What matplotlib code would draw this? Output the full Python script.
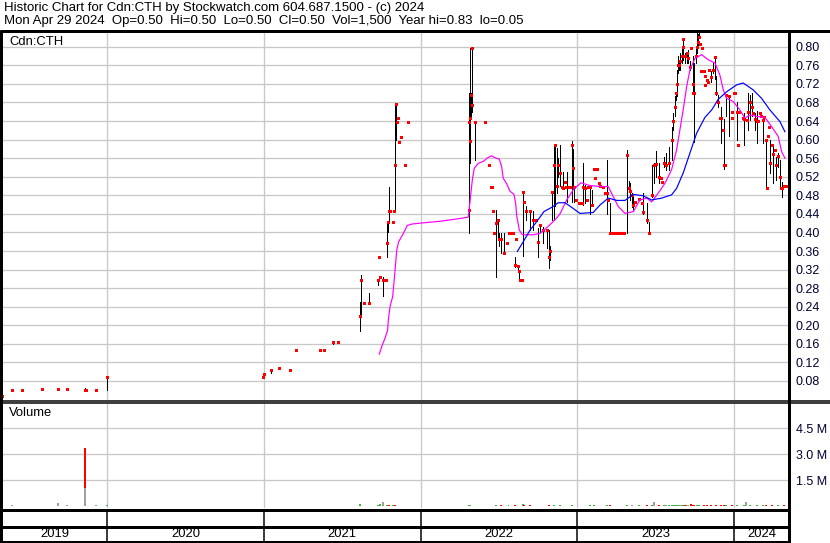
import matplotlib
matplotlib.use('Agg')
import matplotlib.pyplot as plt
from matplotlib.lines import Line2D

plt.rcParams['font.family'] = ['Liberation Sans', 'DejaVu Sans']

# ---------------- data ----------------
title_line1 = "Historic Chart for Cdn:CTH by Stockwatch.com 604.687.1500 - (c) 2024"
title_line2 = "Mon Apr 29 2024  Op=0.50  Hi=0.50  Lo=0.50  Cl=0.50  Vol=1,500  Year hi=0.83  lo=0.05"
symbol = "Cdn:CTH"

years = [2019, 2020, 2021, 2022, 2023, 2024]
year_bounds = [2020, 2021, 2022, 2023, 2024]
x_start, x_end = 2019.330, 2024.350

price_ticks = [0.08, 0.12, 0.16, 0.20, 0.24, 0.28, 0.32, 0.36, 0.40, 0.44,
               0.48, 0.52, 0.56, 0.60, 0.64, 0.68, 0.72, 0.76, 0.80]
vol_ticks = [1.5e6, 3.0e6, 4.5e6]
vol_tick_labels = ["1.5 M", "3.0 M", "4.5 M"]

# bars: (decimal year, high, low, close)
bars_2019 = [
    (2019.330, 0.048, 0.048, 0.048), (2019.394, 0.060, 0.060, 0.060),
    (2019.458, 0.060, 0.060, 0.060), (2019.585, 0.063, 0.063, 0.063),
    (2019.688, 0.063, 0.063, 0.063), (2019.745, 0.063, 0.063, 0.063),
    (2019.857, 0.064, 0.058, 0.060), (2019.866, 0.060, 0.060, 0.060),
    (2019.930, 0.060, 0.060, 0.060), (2020.000, 0.090, 0.060, 0.089),
]
bars_2021 = [
    (2020.993, 0.089, 0.089, 0.089), (2021.001, 0.094, 0.094, 0.094),
    (2021.044, 0.106, 0.098, 0.104), (2021.097, 0.109, 0.109, 0.109),
    (2021.167, 0.104, 0.104, 0.104), (2021.205, 0.147, 0.147, 0.147),
    (2021.357, 0.147, 0.147, 0.147), (2021.382, 0.147, 0.147, 0.147),
    (2021.440, 0.163, 0.159, 0.163), (2021.471, 0.163, 0.163, 0.163),
    (2021.612, 0.250, 0.188, 0.219), (2021.618, 0.308, 0.220, 0.298),
    (2021.639, 0.249, 0.249, 0.249), (2021.669, 0.270, 0.249, 0.249),
    (2021.730, 0.300, 0.287, 0.298), (2021.735, 0.348, 0.348, 0.348),
    (2021.741, 0.303, 0.303, 0.303), (2021.762, 0.304, 0.264, 0.298),
    (2021.779, 0.298, 0.298, 0.298), (2021.788, 0.423, 0.348, 0.378),
    (2021.792, 0.423, 0.400, 0.423), (2021.797, 0.498, 0.427, 0.447),
    (2021.808, 0.447, 0.447, 0.447), (2021.822, 0.423, 0.423, 0.423),
    (2021.830, 0.447, 0.447, 0.447), (2021.839, 0.676, 0.447, 0.545),
    (2021.843, 0.676, 0.600, 0.676), (2021.847, 0.637, 0.637, 0.637),
    (2021.856, 0.647, 0.647, 0.647), (2021.862, 0.595, 0.595, 0.595),
    (2021.875, 0.606, 0.606, 0.606), (2021.901, 0.545, 0.545, 0.545),
    (2021.920, 0.637, 0.637, 0.637),
]
bars_2022 = [
    (2022.307, 0.640, 0.450, 0.637), (2022.310, 0.700, 0.398, 0.448),
    (2022.313, 0.680, 0.550, 0.596), (2022.316, 0.797, 0.600, 0.646),
    (2022.320, 0.700, 0.650, 0.696), (2022.325, 0.797, 0.675, 0.797),
    (2022.328, 0.700, 0.660, 0.675), (2022.350, 0.637, 0.556, 0.637),
    (2022.411, 0.637, 0.637, 0.637), (2022.434, 0.545, 0.545, 0.545),
    (2022.446, 0.497, 0.497, 0.497), (2022.455, 0.497, 0.497, 0.497),
    (2022.459, 0.447, 0.447, 0.447), (2022.468, 0.398, 0.398, 0.398),
    (2022.483, 0.448, 0.304, 0.420), (2022.492, 0.430, 0.385, 0.427),
    (2022.502, 0.398, 0.370, 0.386), (2022.515, 0.398, 0.356, 0.386),
    (2022.532, 0.398, 0.356, 0.356), (2022.551, 0.378, 0.378, 0.378),
    (2022.561, 0.398, 0.398, 0.398), (2022.577, 0.398, 0.398, 0.398),
    (2022.591, 0.398, 0.398, 0.398), (2022.604, 0.348, 0.326, 0.330),
    (2022.607, 0.386, 0.386, 0.386), (2022.619, 0.328, 0.320, 0.328),
    (2022.630, 0.316, 0.298, 0.316), (2022.637, 0.298, 0.298, 0.298),
    (2022.647, 0.298, 0.298, 0.298), (2022.651, 0.488, 0.349, 0.488),
    (2022.660, 0.466, 0.466, 0.466), (2022.674, 0.457, 0.427, 0.447),
    (2022.698, 0.447, 0.405, 0.447), (2022.719, 0.447, 0.405, 0.427),
    (2022.736, 0.427, 0.427, 0.427), (2022.749, 0.409, 0.348, 0.380),
    (2022.760, 0.416, 0.400, 0.416), (2022.783, 0.412, 0.377, 0.405),
    (2022.804, 0.405, 0.366, 0.405), (2022.821, 0.405, 0.323, 0.348),
    (2022.825, 0.370, 0.340, 0.359), (2022.840, 0.488, 0.427, 0.488),
    (2022.851, 0.589, 0.427, 0.545), (2022.859, 0.589, 0.457, 0.589),
    (2022.868, 0.582, 0.485, 0.500), (2022.878, 0.560, 0.520, 0.545),
    (2022.892, 0.589, 0.500, 0.527), (2022.900, 0.497, 0.497, 0.497),
    (2022.910, 0.530, 0.495, 0.495), (2022.918, 0.509, 0.509, 0.509),
    (2022.925, 0.497, 0.497, 0.497), (2022.936, 0.530, 0.466, 0.497),
    (2022.943, 0.497, 0.497, 0.497), (2022.950, 0.497, 0.497, 0.497),
    (2022.964, 0.596, 0.466, 0.589), (2022.974, 0.580, 0.495, 0.538),
    (2022.980, 0.497, 0.466, 0.497), (2022.991, 0.469, 0.469, 0.469),
]
bars_2023 = [
    (2023.010, 0.463, 0.463, 0.463), (2023.027, 0.463, 0.463, 0.463),
    (2023.034, 0.550, 0.459, 0.497), (2023.049, 0.502, 0.463, 0.495),
    (2023.063, 0.470, 0.470, 0.470), (2023.068, 0.497, 0.497, 0.497),
    (2023.080, 0.500, 0.440, 0.497), (2023.091, 0.492, 0.456, 0.459),
    (2023.108, 0.537, 0.537, 0.537), (2023.112, 0.517, 0.517, 0.517),
    (2023.123, 0.537, 0.537, 0.537), (2023.138, 0.507, 0.507, 0.507),
    (2023.144, 0.500, 0.500, 0.500), (2023.165, 0.497, 0.497, 0.497),
    (2023.176, 0.484, 0.484, 0.484), (2023.187, 0.556, 0.440, 0.484),
    (2023.197, 0.470, 0.470, 0.470), (2023.208, 0.463, 0.398, 0.398),
    (2023.217, 0.398, 0.398, 0.398), (2023.230, 0.398, 0.398, 0.398),
    (2023.246, 0.398, 0.398, 0.398), (2023.259, 0.398, 0.398, 0.398),
    (2023.272, 0.398, 0.398, 0.398), (2023.284, 0.398, 0.398, 0.398),
    (2023.299, 0.398, 0.398, 0.398), (2023.314, 0.578, 0.398, 0.567),
    (2023.331, 0.510, 0.495, 0.495), (2023.336, 0.507, 0.470, 0.490),
    (2023.346, 0.485, 0.455, 0.480), (2023.357, 0.477, 0.448, 0.460),
    (2023.367, 0.465, 0.465, 0.465), (2023.395, 0.473, 0.473, 0.473),
    (2023.410, 0.463, 0.463, 0.463), (2023.420, 0.484, 0.440, 0.445),
    (2023.442, 0.463, 0.420, 0.427), (2023.459, 0.423, 0.398, 0.398),
    (2023.474, 0.545, 0.477, 0.480), (2023.489, 0.550, 0.507, 0.545),
    (2023.501, 0.575, 0.520, 0.548), (2023.520, 0.550, 0.506, 0.520),
    (2023.531, 0.517, 0.517, 0.517), (2023.541, 0.509, 0.509, 0.509),
    (2023.554, 0.563, 0.542, 0.550), (2023.565, 0.571, 0.535, 0.545),
    (2023.586, 0.585, 0.535, 0.550), (2023.601, 0.628, 0.556, 0.600),
    (2023.611, 0.657, 0.621, 0.640), (2023.622, 0.693, 0.650, 0.670),
    (2023.629, 0.700, 0.685, 0.700), (2023.633, 0.750, 0.693, 0.720),
    (2023.640, 0.780, 0.743, 0.760), (2023.648, 0.769, 0.750, 0.760),
    (2023.654, 0.787, 0.750, 0.770), (2023.665, 0.797, 0.765, 0.780),
    (2023.672, 0.816, 0.793, 0.816), (2023.675, 0.816, 0.772, 0.800),
    (2023.688, 0.787, 0.765, 0.780), (2023.697, 0.787, 0.765, 0.787),
    (2023.707, 0.793, 0.765, 0.775), (2023.718, 0.770, 0.750, 0.757),
    (2023.727, 0.797, 0.797, 0.797), (2023.735, 0.780, 0.700, 0.720),
    (2023.739, 0.757, 0.700, 0.700), (2023.746, 0.765, 0.595, 0.700),
    (2023.758, 0.797, 0.765, 0.780), (2023.765, 0.829, 0.787, 0.800),
    (2023.771, 0.827, 0.804, 0.810), (2023.777, 0.830, 0.820, 0.820),
    (2023.782, 0.807, 0.807, 0.807), (2023.786, 0.747, 0.747, 0.747),
    (2023.793, 0.797, 0.797, 0.797), (2023.797, 0.747, 0.747, 0.747),
    (2023.807, 0.747, 0.747, 0.747), (2023.814, 0.718, 0.718, 0.718),
    (2023.816, 0.736, 0.736, 0.736), (2023.825, 0.729, 0.729, 0.729),
    (2023.831, 0.725, 0.725, 0.725), (2023.839, 0.750, 0.750, 0.750),
    (2023.852, 0.747, 0.725, 0.735), (2023.867, 0.765, 0.743, 0.750),
    (2023.878, 0.779, 0.730, 0.779), (2023.884, 0.736, 0.697, 0.700),
    (2023.899, 0.697, 0.671, 0.680), (2023.910, 0.646, 0.646, 0.646),
    (2023.916, 0.671, 0.592, 0.646), (2023.931, 0.621, 0.621, 0.621),
    (2023.937, 0.645, 0.537, 0.545), (2023.941, 0.545, 0.545, 0.545),
    (2023.948, 0.697, 0.650, 0.697), (2023.967, 0.693, 0.607, 0.693),
    (2023.984, 0.646, 0.646, 0.646), (2023.988, 0.660, 0.660, 0.660),
    (2023.999, 0.700, 0.700, 0.700),
]
bars_2024 = [
    (2024.007, 0.700, 0.700, 0.700), (2024.016, 0.682, 0.600, 0.660),
    (2024.027, 0.589, 0.589, 0.589), (2024.033, 0.660, 0.660, 0.660),
    (2024.054, 0.646, 0.646, 0.646), (2024.065, 0.657, 0.589, 0.645),
    (2024.080, 0.642, 0.642, 0.642), (2024.090, 0.700, 0.621, 0.660),
    (2024.101, 0.697, 0.642, 0.680), (2024.112, 0.700, 0.650, 0.670),
    (2024.122, 0.657, 0.657, 0.657), (2024.133, 0.657, 0.621, 0.645),
    (2024.144, 0.661, 0.592, 0.640), (2024.154, 0.640, 0.640, 0.640),
    (2024.165, 0.657, 0.657, 0.657), (2024.171, 0.650, 0.650, 0.650),
    (2024.182, 0.642, 0.592, 0.642), (2024.192, 0.648, 0.648, 0.648),
    (2024.201, 0.600, 0.495, 0.600), (2024.207, 0.495, 0.495, 0.495),
    (2024.214, 0.607, 0.607, 0.607), (2024.222, 0.628, 0.628, 0.628),
    (2024.228, 0.600, 0.527, 0.550), (2024.239, 0.589, 0.589, 0.589),
    (2024.249, 0.585, 0.506, 0.570), (2024.260, 0.578, 0.578, 0.578),
    (2024.267, 0.563, 0.513, 0.545), (2024.281, 0.571, 0.540, 0.565),
    (2024.292, 0.556, 0.500, 0.520), (2024.299, 0.495, 0.495, 0.495),
    (2024.307, 0.509, 0.477, 0.495), (2024.318, 0.500, 0.500, 0.500),
    (2024.324, 0.500, 0.500, 0.500), (2024.334, 0.500, 0.500, 0.500),
]

# moving averages (decimal year, price)
ma_short_t = [2021.737, 2021.752, 2021.773, 2021.790, 2021.794, 2021.805, 2021.822, 2021.830,
              2021.839, 2021.848, 2021.860, 2021.879, 2021.896, 2021.915, 2021.943, 2021.996,
              2022.124, 2022.251, 2022.304, 2022.315, 2022.330, 2022.342, 2022.368, 2022.400,
              2022.428, 2022.453, 2022.475, 2022.502, 2022.517, 2022.527, 2022.549, 2022.570,
              2022.596, 2022.607, 2022.613, 2022.630, 2022.649, 2022.677, 2022.719, 2022.762,
              2022.814, 2022.857, 2022.889, 2022.932, 2022.974, 2023.023, 2023.080, 2023.144,
              2023.197, 2023.229, 2023.261, 2023.304, 2023.357, 2023.399, 2023.442, 2023.474,
              2023.516, 2023.559, 2023.601, 2023.633, 2023.654, 2023.675, 2023.697, 2023.718,
              2023.750, 2023.793, 2023.835, 2023.878, 2023.909, 2023.931, 2023.952, 2023.994,
              2024.037, 2024.069, 2024.101, 2024.144, 2024.196, 2024.239, 2024.281, 2024.303,
              2024.324]
ma_short_p = [0.138, 0.154, 0.172, 0.190, 0.211, 0.240, 0.262, 0.291,
              0.326, 0.362, 0.380, 0.391, 0.402, 0.415, 0.418, 0.420,
              0.424, 0.430, 0.433, 0.466, 0.513, 0.538, 0.549, 0.553,
              0.561, 0.565, 0.561, 0.558, 0.542, 0.517, 0.505, 0.489,
              0.482, 0.461, 0.436, 0.405, 0.395, 0.395, 0.395, 0.398,
              0.413, 0.427, 0.440, 0.470, 0.492, 0.507, 0.501, 0.499,
              0.499, 0.477, 0.456, 0.441, 0.445, 0.470, 0.474, 0.466,
              0.485, 0.506, 0.535, 0.578, 0.621, 0.664, 0.714, 0.750,
              0.775, 0.783, 0.772, 0.765, 0.739, 0.707, 0.689, 0.682,
              0.664, 0.646, 0.653, 0.650, 0.648, 0.628, 0.607, 0.574,
              0.560]
ma_long_t = [2022.617, 2022.655, 2022.698, 2022.740, 2022.787, 2022.836, 2022.878, 2022.921,
             2022.964, 2023.017, 2023.101, 2023.144, 2023.197, 2023.251, 2023.304, 2023.357,
             2023.420, 2023.474, 2023.538, 2023.601, 2023.633, 2023.675, 2023.718, 2023.761,
             2023.814, 2023.857, 2023.899, 2023.952, 2024.016, 2024.058, 2024.122, 2024.175,
             2024.228, 2024.292, 2024.324]
ma_long_p = [0.359, 0.380, 0.405, 0.423, 0.445, 0.454, 0.464, 0.464,
             0.454, 0.441, 0.443, 0.459, 0.474, 0.469, 0.469, 0.482,
             0.479, 0.470, 0.474, 0.481, 0.495, 0.528, 0.571, 0.614,
             0.648, 0.664, 0.687, 0.703, 0.718, 0.722, 0.707, 0.689,
             0.664, 0.639, 0.617]

# volume: (decimal year, millions of shares, direction u/d/n)
vol_2019 = [
    (2019.335, 0.04, 'n'), (2019.395, 0.06, 'n'), (2019.458, 0.05, 'n'),
    (2019.585, 0.05, 'u'), (2019.688, 0.20, 'n'), (2019.745, 0.06, 'n'),
    (2019.860, 3.38, 'd'), (2019.860, 1.07, 'n'), (2019.930, 0.09, 'n'),
    (2020.000, 0.07, 'u'),
]
vol_2021 = [
    (2020.995, 0.05, 'u'), (2021.044, 0.05, 'u'), (2021.097, 0.05, 'u'),
    (2021.167, 0.05, 'd'), (2021.205, 0.05, 'u'), (2021.357, 0.05, 'n'),
    (2021.382, 0.05, 'n'), (2021.440, 0.05, 'n'), (2021.471, 0.05, 'n'),
    (2021.612, 0.13, 'u'), (2021.640, 0.05, 'u'), (2021.669, 0.04, 'n'),
    (2021.730, 0.07, 'u'), (2021.741, 0.12, 'u'), (2021.762, 0.24, 'n'),
    (2021.788, 0.10, 'u'), (2021.797, 0.08, 'd'), (2021.808, 0.05, 'd'),
    (2021.822, 0.07, 'u'), (2021.839, 0.08, 'd'), (2021.856, 0.05, 'd'),
    (2021.875, 0.05, 'u'), (2021.901, 0.04, 'd'), (2021.920, 0.04, 'd'),
]
vol_2022 = [
    (2022.307, 0.06, 'u'), (2022.313, 0.09, 'u'), (2022.320, 0.05, 'd'),
    (2022.350, 0.04, 'u'), (2022.411, 0.03, 'n'), (2022.434, 0.04, 'd'),
    (2022.446, 0.05, 'd'), (2022.459, 0.04, 'n'), (2022.468, 0.05, 'd'),
    (2022.483, 0.06, 'u'), (2022.492, 0.05, 'd'), (2022.502, 0.04, 'u'),
    (2022.515, 0.06, 'd'), (2022.532, 0.05, 'u'), (2022.551, 0.04, 'd'),
    (2022.561, 0.06, 'u'), (2022.577, 0.05, 'd'), (2022.591, 0.04, 'u'),
    (2022.604, 0.06, 'd'), (2022.619, 0.05, 'd'), (2022.630, 0.04, 'd'),
    (2022.647, 0.05, 'u'), (2022.651, 0.14, 'u'), (2022.660, 0.06, 'd'),
    (2022.674, 0.05, 'u'), (2022.698, 0.06, 'd'), (2022.719, 0.04, 'n'),
    (2022.736, 0.05, 'd'), (2022.749, 0.04, 'n'), (2022.760, 0.05, 'u'),
    (2022.783, 0.04, 'd'), (2022.804, 0.05, 'd'), (2022.821, 0.06, 'd'),
    (2022.840, 0.05, 'u'), (2022.851, 0.07, 'u'), (2022.868, 0.05, 'd'),
    (2022.892, 0.06, 'u'), (2022.910, 0.04, 'd'), (2022.936, 0.05, 'd'),
    (2022.964, 0.06, 'u'), (2022.980, 0.05, 'd'), (2022.991, 0.04, 'd'),
]
vol_2023 = [
    (2023.010, 0.04, 'd'), (2023.034, 0.05, 'u'), (2023.049, 0.04, 'n'),
    (2023.080, 0.06, 'u'), (2023.091, 0.05, 'd'), (2023.108, 0.06, 'u'),
    (2023.138, 0.04, 'n'), (2023.165, 0.05, 'd'), (2023.187, 0.07, 'u'),
    (2023.208, 0.06, 'd'), (2023.230, 0.05, 'd'), (2023.259, 0.04, 'n'),
    (2023.284, 0.05, 'd'), (2023.314, 0.08, 'u'), (2023.331, 0.05, 'd'),
    (2023.346, 0.06, 'n'), (2023.367, 0.05, 'u'), (2023.395, 0.06, 'u'),
    (2023.420, 0.05, 'd'), (2023.442, 0.06, 'd'), (2023.459, 0.05, 'd'),
    (2023.474, 0.07, 'u'), (2023.489, 0.24, 'n'), (2023.501, 0.05, 'n'),
    (2023.520, 0.06, 'd'), (2023.541, 0.05, 'd'), (2023.554, 0.06, 'u'),
    (2023.565, 0.08, 'n'), (2023.586, 0.07, 'u'), (2023.601, 0.09, 'u'),
    (2023.611, 0.08, 'u'), (2023.622, 0.06, 'u'), (2023.633, 0.10, 'u'),
    (2023.640, 0.07, 'u'), (2023.654, 0.08, 'n'), (2023.665, 0.08, 'u'),
    (2023.675, 0.09, 'u'), (2023.688, 0.06, 'd'), (2023.697, 0.07, 'u'),
    (2023.707, 0.06, 'n'), (2023.718, 0.05, 'd'), (2023.727, 0.12, 'd'),
    (2023.739, 0.07, 'd'), (2023.746, 0.09, 'd'), (2023.765, 0.08, 'u'),
    (2023.777, 0.06, 'u'), (2023.793, 0.05, 'd'), (2023.807, 0.06, 'd'),
    (2023.825, 0.09, 'd'), (2023.839, 0.05, 'u'), (2023.852, 0.06, 'd'),
    (2023.867, 0.05, 'u'), (2023.884, 0.06, 'd'), (2023.899, 0.05, 'd'),
    (2023.916, 0.06, 'd'), (2023.937, 0.07, 'd'), (2023.948, 0.06, 'u'),
    (2023.967, 0.05, 'n'), (2023.988, 0.06, 'd'),
]
vol_2024 = [
    (2024.007, 0.05, 'd'), (2024.016, 0.06, 'u'), (2024.033, 0.05, 'd'),
    (2024.054, 0.04, 'n'), (2024.065, 0.06, 'u'), (2024.073, 0.24, 'n'),
    (2024.101, 0.06, 'u'), (2024.122, 0.05, 'd'), (2024.144, 0.07, 'u'),
    (2024.165, 0.05, 'd'), (2024.182, 0.06, 'u'), (2024.201, 0.07, 'd'),
    (2024.222, 0.05, 'u'), (2024.239, 0.06, 'd'), (2024.260, 0.05, 'd'),
    (2024.281, 0.06, 'u'), (2024.299, 0.05, 'd'), (2024.318, 0.06, 'd'),
    (2024.334, 0.03, 'n'),
]

# ---------------- layout ----------------
W, H = 830, 543
fig = plt.figure(figsize=(W / 100, H / 100), dpi=100)
fig.patch.set_facecolor('white')


def rect(x0, y0, x1, y1):
    return [x0 / W, 1 - y1 / H, (x1 - x0) / W, (y1 - y0) / H]


def px_line(x0, y0, x1, y1, lw, color='black'):
    fig.add_artist(Line2D([x0 / W, x1 / W], [1 - y0 / H, 1 - y1 / H],
                          color=color, lw=lw, solid_capstyle='butt',
                          transform=fig.transFigure))


GRID = '#c8c8c8'
LBL = '#000033'
px = 0.72  # points per pixel

ax = fig.add_axes(rect(2, 31, 789, 400))
axv = fig.add_axes(rect(2, 403, 789, 508))
axd = fig.add_axes(rect(2, 510, 789, 542))

for a in (ax, axv, axd):
    a.set_xlim(x_start, x_end)
    a.set_facecolor('white')
    for s in a.spines.values():
        s.set_visible(False)
    a.set_xticks(year_bounds)
    a.tick_params(axis='x', length=0, labelbottom=False)

# price panel
ax.set_ylim(0.039, 0.834)
ax.set_yticks(price_ticks)
ax.set_yticklabels([f"{v:.2f}" for v in price_ticks])
ax.yaxis.tick_right()
ax.tick_params(axis='y', length=0, pad=5, labelsize=9, labelcolor=LBL)
ax.grid(True, color=GRID, lw=1.3 * px)
ax.set_axisbelow(True)

for bars in (bars_2019, bars_2021, bars_2022, bars_2023, bars_2024):
    t = [b[0] for b in bars]
    hi = [b[1] for b in bars]
    lo = [b[2] for b in bars]
    cl = [b[3] for b in bars]
    ax.vlines(t, lo, hi, color='black', lw=1.0 * px, zorder=3,
              antialiased=False)
    ax.plot(t, cl, linestyle='none', marker='s', ms=3.0 * px, mew=0,
            color='#ff0000', zorder=4, antialiased=False)

ax.plot(ma_short_t, ma_short_p, color='#ff00ff', lw=1.2 * px, zorder=5)
ax.plot(ma_long_t, ma_long_p, color='#0000ff', lw=1.2 * px, zorder=5)

ax.text(7 / 787, 1 - 11 / 369, symbol, transform=ax.transAxes,
        fontsize=9.4, va='center', ha='left', color='black')

# volume panel
axv.set_ylim(-0.087e6, 5.97e6)
axv.set_yticks(vol_ticks)
axv.set_yticklabels(vol_tick_labels)
axv.yaxis.tick_right()
axv.tick_params(axis='y', length=0, pad=5, labelsize=9, labelcolor=LBL)
axv.grid(True, color=GRID, lw=1.3 * px)
axv.set_axisbelow(True)
vcol = {'u': '#3cb43c', 'd': '#ff0000', 'n': '#a0a0a0'}
for vols in (vol_2019, vol_2021, vol_2022, vol_2023, vol_2024):
    axv.bar([v[0] for v in vols], [v[1] * 1e6 for v in vols], width=0.012,
            color=[vcol[v[2]] for v in vols], lw=0, zorder=3)
axv.text(7 / 787, 1 - 10 / 105, "Volume", transform=axv.transAxes,
         fontsize=9.4, va='center', ha='left', color='black')

# date panel
axd.set_ylim(0, 1)
axd.set_yticks([])
for yb in year_bounds:
    axd.axvline(yb, color='black', lw=1.5 * px)
for yr in years:
    lo_ = max(yr, x_start)
    hi_ = min(yr + 1, x_end)
    axd.text((lo_ + hi_) / 2, 0.24, str(yr), ha='center', va='center',
             fontsize=9.4, color='black')

# frame lines
px_line(0, 30.5, W, 30.5, 3 * px)          # top thick line
px_line(1, 30, 1, 543, 3 * px)              # left border
px_line(789, 30, 789, 543, 3 * px)          # right border of plot area
px_line(0, 400.5, W, 400.5, 1.5 * px)       # double separator
px_line(0, 403, W, 403, 1.5 * px)
px_line(0, 509.5, 789, 509.5, 3 * px)       # date strip top
px_line(0, 527, 789, 527, 3 * px)           # date strip middle
px_line(0, 541.5, 789, 541.5, 3 * px)       # bottom

# header text
fig.text(4 / W, 1 - 8 / H, title_line1, fontsize=9.5, va='center', ha='left')
fig.text(4 / W, 1 - 21 / H, title_line2, fontsize=9.5, va='center', ha='left')

fig.savefig('out.png', dpi=100, facecolor='white')
